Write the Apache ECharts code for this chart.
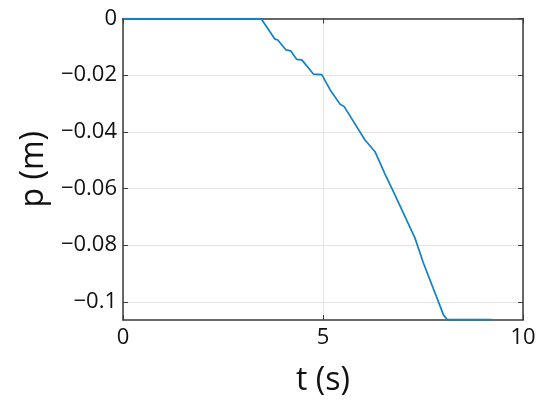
<!DOCTYPE html>
<html>
<head>
<meta charset="utf-8">
<script src="https://cdn.jsdelivr.net/npm/echarts@6/dist/echarts.min.js"></script>
<style>html,body{margin:0;padding:0;background:#fff}#c{width:550px;height:407px}</style>
</head>
<body>
<div id="c"></div>
<script>
const tValues = [0, 3.45, 3.8, 3.87, 4.075, 4.19, 4.34, 4.47, 4.76, 4.97, 5.18, 5.43, 5.53, 6.05, 6.3, 6.55, 6.76, 7.3, 7.51, 7.93, 8.01, 8.11, 9.22];
const pValues = [0, 0, -0.0073, -0.0076, -0.0111, -0.0114, -0.0144, -0.0146, -0.0196, -0.0198, -0.0252, -0.0303, -0.0311, -0.0429, -0.047, -0.0549, -0.0611, -0.0775, -0.0863, -0.1016, -0.1046, -0.1063, -0.1063];
const xTicks = [0, 5, 10];
const yTicks = [0, -0.02, -0.04, -0.06, -0.08, -0.1];
const xName = 't (s)';
const yName = 'p (m)';

const chart = echarts.init(document.getElementById('c'), null, {renderer: 'canvas'});
const axisColor = '#3a3a3a';
const font = 'Open Sans';
const fmtY = v => {
  const r = Math.round(v * 1000) / 1000;
  if (r === 0) return '0';
  return '\u2212' + String(Math.abs(r));
};
const tick = {show: true, inside: true, length: 5, lineStyle: {color: axisColor, width: 1}};
const line = {show: true, onZero: false, lineStyle: {color: axisColor, width: 1.5}};
const grid = {show: true, lineStyle: {color: '#e3e3e3', width: 1}};
chart.setOption({
  animation: false,
  grid: {left: 123, right: 27, top: 18.5, bottom: 87, containLabel: false},
  xAxis: [{
    type: 'value', min: 0, max: 10, interval: 5,
    name: xName, nameLocation: 'middle', nameGap: 45,
    nameTextStyle: {fontFamily: font, fontSize: 32, color: '#111'},
    axisLine: line, axisTick: Object.assign({customValues: xTicks}, tick),
    axisLabel: {fontFamily: font, fontSize: 22, color: '#111', margin: 7, customValues: xTicks},
    splitLine: grid
  }, {
    type: 'value', position: 'top', min: 0, max: 10, interval: 5,
    axisLine: line, axisTick: Object.assign({customValues: xTicks}, tick),
    axisLabel: {show: false}, splitLine: {show: false}
  }],
  yAxis: [{
    type: 'value', min: -0.1064, max: 0,
    name: yName, nameLocation: 'middle', nameGap: 68,
    nameTextStyle: {fontFamily: font, fontSize: 32, color: '#111'},
    axisLine: line,
    axisTick: Object.assign({customValues: yTicks}, tick),
    axisLabel: {fontFamily: font, fontSize: 22, color: '#111', margin: 6, customValues: yTicks, formatter: fmtY},
    splitLine: grid
  }, {
    type: 'value', position: 'right', min: -0.1064, max: 0,
    axisLine: line,
    axisTick: Object.assign({customValues: yTicks}, tick),
    axisLabel: {show: false}, splitLine: {show: false}
  }],
  series: [{
    type: 'line', showSymbol: false, symbol: 'none',
    data: tValues.map((t, i) => [t, pValues[i]]),
    lineStyle: {color: '#1182c5', width: 1.7},
    itemStyle: {color: '#1182c5'}
  }]
});
</script>
</body>
</html>
